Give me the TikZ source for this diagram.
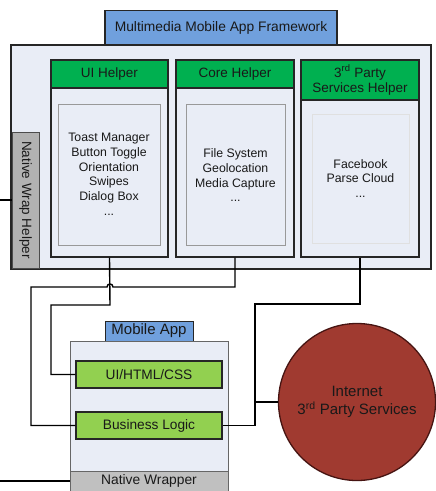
\documentclass[tikz,border=0pt]{standalone}
\usepackage{fontspec}
\setmainfont{Liberation Sans}
\definecolor{fwfill}{RGB}{233,237,246}
\definecolor{titleblue}{RGB}{112,160,221}
\definecolor{hdrgreen}{RGB}{0,176,80}
\definecolor{ltgreen}{RGB}{146,208,80}
\definecolor{wrapgray}{RGB}{178,178,178}
\definecolor{nwgray}{RGB}{192,192,192}
\definecolor{inetred}{RGB}{160,58,48}
\definecolor{inetdark}{RGB}{70,20,18}
\definecolor{txt}{RGB}{25,25,25}
\tikzset{
  bx/.style={draw=black!85, line width=1.4pt, inner sep=0pt, rectangle},
  inbox/.style={draw=black!40, line width=0.6pt, fill=fwfill, inner sep=0pt, rectangle},
  hdr/.style={bx, fill=hdrgreen, text=txt, font=\fontsize{13.5}{15.5}\selectfont, align=center},
  lg/.style={bx, fill=ltgreen, text=txt, font=\fontsize{13.7}{16}\selectfont},
  ttl/.style={bx, fill=titleblue, text=txt},
  conn/.style={draw=black, line width=1.4pt},
  itxt/.style={text=txt, font=\fontsize{12.3}{14.7}\selectfont, align=center, inner sep=0pt}
}
\begin{document}
\begin{tikzpicture}[x=1pt,y=-1pt]
\useasboundingbox (0,0) rectangle (436,491);
% framework
\node[bx, fill=fwfill, minimum width=420pt, minimum height=224pt] (fw) at (221,157) {};
\node[ttl, minimum width=232pt, minimum height=34pt, font=\fontsize{13.8}{16}\selectfont] (fwtitle) at (221,27.5) {Multimedia Mobile App Framework};
\node[bx, draw=black!70, line width=0.6pt, fill=wrapgray, minimum width=27pt, minimum height=136pt, text=txt, font=\fontsize{13.5}{16}\selectfont] (nwh) at (25.5,200) {\rotatebox{-90}{Native Wrap Helper}};
% UI helper
\node[bx, fill=fwfill, minimum width=117pt, minimum height=197pt] (uibox) at (109.5,158.5) {};
\node[hdr, minimum width=117pt, minimum height=28pt] (uihdr) at (109.5,74) {UI Helper};
\node[inbox, minimum width=102pt, minimum height=141pt] (uiin) at (109,174.5) {};
\node[itxt, anchor=north] (uitext) at (109,133) {Toast Manager\\Button Toggle\\Orientation\\Swipes\\Dialog Box\\...};
% Core helper
\node[bx, fill=fwfill, minimum width=118pt, minimum height=197pt] (corebox) at (235,158.5) {};
\node[hdr, minimum width=118pt, minimum height=28pt] (corehdr) at (235,74) {Core Helper};
\node[inbox, minimum width=99pt, minimum height=141pt] (corein) at (235.5,174.5) {};
\node[itxt, anchor=north] (coretext) at (235.5,148.5) {File System\\Geolocation\\Media Capture\\...};
% 3rd party helper
\node[bx, fill=fwfill, minimum width=118pt, minimum height=197pt] (tpbox) at (360,158.5) {};
\node[hdr, minimum width=118pt, minimum height=40pt, font=\fontsize{13.5}{15}\selectfont] (tphdr) at (360,80) {3\textsuperscript{rd} Party\\Services Helper};
\node[inbox, draw=black!12, minimum width=97pt, minimum height=129pt] (tpin) at (360.5,178.5) {};
\node[itxt, anchor=north] (tptext) at (360.5,159) {Facebook\\Parse Cloud\\...};
% Mobile app
\node[ttl, line width=1pt, minimum width=88pt, minimum height=20pt, font=\fontsize{15}{17}\selectfont] (matitle) at (149,331) {Mobile App};
\node[bx, draw=black!60, line width=1pt, fill=fwfill, minimum width=158pt, minimum height=151pt] (mabox) at (149,416.5) {};
\node[bx, draw=black!60, line width=0.8pt, fill=nwgray, minimum width=158pt, minimum height=20pt, text=txt, font=\fontsize{13.8}{16}\selectfont] (nw) at (149,481) {Native Wrapper};
\node[lg, minimum width=146pt, minimum height=27pt] (uihtml) at (149,374.5) {UI/HTML/CSS};
\node[lg, minimum width=146pt, minimum height=27pt] (bl) at (149,425.5) {Business Logic};
% Internet
\node[circle, draw=inetdark, line width=1.3pt, fill=inetred, minimum size=157pt, inner sep=0pt, text=txt, align=center, font=\fontsize{15}{18}\selectfont] (inet) at (357,402) {Internet\\3\textsuperscript{rd} Party Services};
% free ends
\coordinate (leftA) at (0,200);
\coordinate (leftB) at (0,481);
\coordinate (j1) at (255,402);
% connectors
\draw[conn] (uibox.south) -- (110,305) -- (51,305) |- (uihtml.west);
\draw[conn] (corebox.south) -- (235,287) -- (113,287) .. controls (113,283) and (107,283) .. (107,287) -- (31,287) |- (bl.west);
\draw[conn] (tpbox.south) -- (360,304) -- (255,304) |- (bl.east);
\draw[conn] (j1) -- (inet.west);
\draw[conn] (nwh.west) -- (leftA);
\draw[conn] (nw.west) -- (leftB);
\end{tikzpicture}
\end{document}
